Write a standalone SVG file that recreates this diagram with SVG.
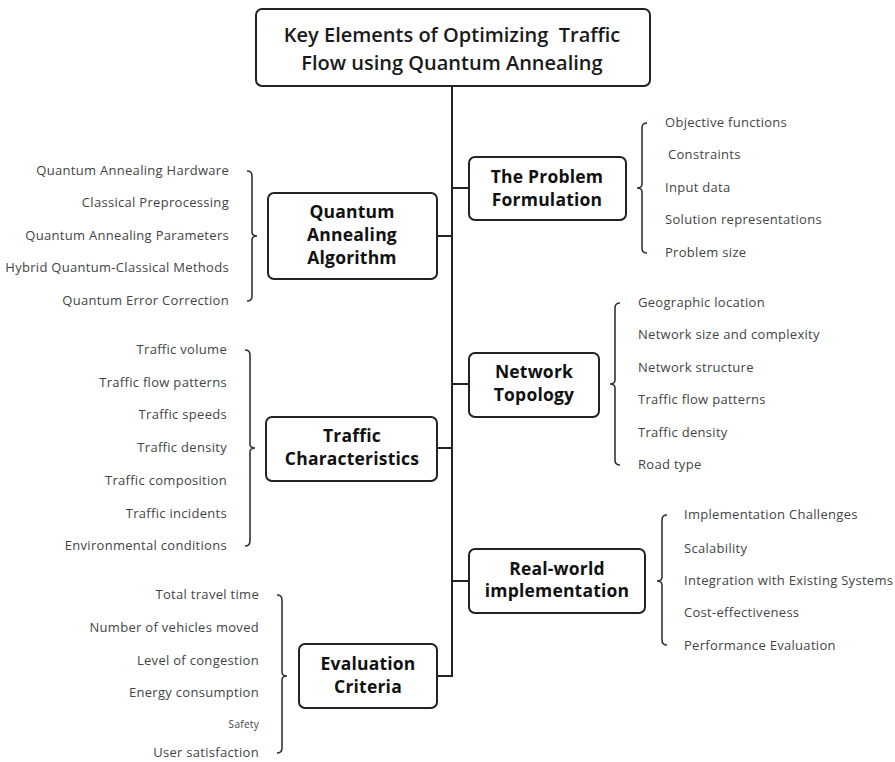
<svg xmlns="http://www.w3.org/2000/svg" width="895" height="762" viewBox="0 0 895 762">
<style>
.box{fill:#fff;stroke:#222;stroke-width:2}
.ln{fill:none;stroke:#222;stroke-width:2}
.br{fill:none;stroke:#333;stroke-width:1.6}
.ttl{font-family:"Open Sans","Noto Sans",sans-serif;font-size:20px;font-weight:600;fill:#1a1a1a;text-anchor:middle}
.hd{font-family:"Open Sans","Noto Sans",sans-serif;font-size:17.5px;font-weight:700;letter-spacing:0.2px;fill:#111;text-anchor:middle}
.it{font-family:"Open Sans","Noto Sans",sans-serif;font-size:13px;letter-spacing:0.3px;fill:#444}
.l{text-anchor:end}
</style>
<rect width="895" height="762" fill="#fff"/>
<g id="connectors">
<path class="ln" d="M452 86 V676 H437"/>
<path class="ln" d="M452 188 H469"/>
<path class="ln" d="M452 236 H437"/>
<path class="ln" d="M452 384 H469"/>
<path class="ln" d="M452 448 H437"/>
<path class="ln" d="M452 581 H469"/>
</g>
<g id="title">
<rect class="box" x="256" y="9" width="394" height="77" rx="6"/>
<text class="ttl" x="452" y="42" xml:space="preserve">Key Elements of Optimizing  Traffic</text>
<text class="ttl" x="452" y="70">Flow using Quantum Annealing</text>
</g>
<g id="qaa">
<rect class="box" x="268" y="193" width="169" height="86" rx="6"/>
<text class="hd" x="352" y="218">Quantum</text>
<text class="hd" x="352" y="241">Annealing</text>
<text class="hd" x="352" y="264">Algorithm</text>
<path class="br" d="M247 171 Q252 171 252 176 V232 Q252 236 257 236 Q252 236 252 240 V296 Q252 301 247 301"/>
<text class="it l" x="229" y="175">Quantum Annealing Hardware</text>
<text class="it l" x="229" y="207">Classical Preprocessing</text>
<text class="it l" x="229" y="240">Quantum Annealing Parameters</text>
<text class="it l" x="229" y="272">Hybrid Quantum-Classical Methods</text>
<text class="it l" x="229" y="305">Quantum Error Correction</text>
</g>
<g id="problem">
<rect class="box" x="469" y="157" width="157" height="63" rx="6"/>
<text class="hd" x="547" y="183">The Problem</text>
<text class="hd" x="547" y="206">Formulation</text>
<path class="br" d="M647 123 Q642 123 642 128 V184 Q642 188 637 188 Q642 188 642 192 V248 Q642 253 647 253"/>
<text class="it" x="665" y="127">Objective functions</text>
<text class="it" x="668" y="159">Constraints</text>
<text class="it" x="665" y="192">Input data</text>
<text class="it" x="665" y="224">Solution representations</text>
<text class="it" x="665" y="257">Problem size</text>
</g>
<g id="network">
<rect class="box" x="469" y="353" width="130" height="64" rx="6"/>
<text class="hd" x="534" y="378">Network</text>
<text class="hd" x="534" y="401">Topology</text>
<path class="br" d="M620 303 Q615 303 615 308 V380 Q615 384 610 384 Q615 384 615 388 V460 Q615 465 620 465"/>
<text class="it" x="638" y="307">Geographic location</text>
<text class="it" x="638" y="339">Network size and complexity</text>
<text class="it" x="638" y="372">Network structure</text>
<text class="it" x="638" y="404">Traffic flow patterns</text>
<text class="it" x="638" y="437">Traffic density</text>
<text class="it" x="638" y="469">Road type</text>
</g>
<g id="traffic">
<rect class="box" x="266" y="417" width="171" height="64" rx="6"/>
<text class="hd" x="352" y="442">Traffic</text>
<text class="hd" x="352" y="465">Characteristics</text>
<path class="br" d="M245 350 Q250 350 250 355 V444 Q250 448 255 448 Q250 448 250 452 V541 Q250 546 245 546"/>
<text class="it l" x="227" y="354">Traffic volume</text>
<text class="it l" x="227" y="387">Traffic flow patterns</text>
<text class="it l" x="227" y="419">Traffic speeds</text>
<text class="it l" x="227" y="452">Traffic density</text>
<text class="it l" x="227" y="485">Traffic composition</text>
<text class="it l" x="227" y="518">Traffic incidents</text>
<text class="it l" x="227" y="550">Environmental conditions</text>
</g>
<g id="realworld">
<rect class="box" x="469" y="549" width="176" height="64" rx="6"/>
<text class="hd" x="557" y="575">Real-world</text>
<text class="hd" x="557" y="597">implementation</text>
<path class="br" d="M667 515 Q662 515 662 520 V577 Q662 581 657 581 Q662 581 662 585 V640 Q662 645 667 645"/>
<text class="it" x="684" y="519">Implementation Challenges</text>
<text class="it" x="684" y="553">Scalability</text>
<text class="it" x="684" y="585">Integration with Existing Systems</text>
<text class="it" x="684" y="617">Cost-effectiveness</text>
<text class="it" x="684" y="650">Performance Evaluation</text>
</g>
<g id="evaluation">
<rect class="box" x="299" y="644" width="138" height="64" rx="6"/>
<text class="hd" x="368" y="670">Evaluation</text>
<text class="hd" x="368" y="693">Criteria</text>
<path class="br" d="M277 595 Q282 595 282 600 V672 Q282 676 287 676 Q282 676 282 680 V748 Q282 753 277 753"/>
<text class="it l" x="259" y="599">Total travel time</text>
<text class="it l" x="259" y="632">Number of vehicles moved</text>
<text class="it l" x="259" y="665">Level of congestion</text>
<text class="it l" x="259" y="697">Energy consumption</text>
<text class="it l" x="259" y="728" style="font-size:10px">Safety</text>
<text class="it l" x="259" y="757">User satisfaction</text>
</g>
</svg>
